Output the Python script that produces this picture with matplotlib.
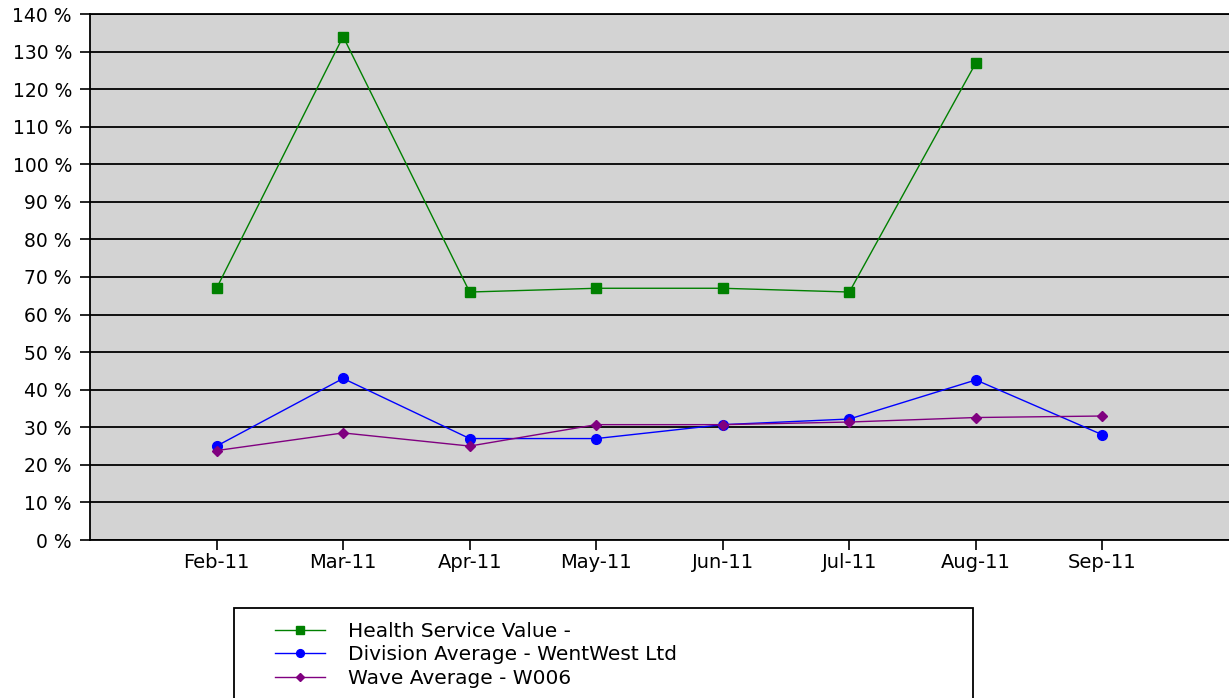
import matplotlib.pyplot as plt
from matplotlib.patches import Rectangle

months = ['Feb-11', 'Mar-11', 'Apr-11', 'May-11', 'Jun-11', 'Jul-11', 'Aug-11', 'Sep-11']
health_service = [67, 134, 66, 67, 67, 66, 127]
division_avg = [25, 43, 27, 27, 30.7, 32.2, 42.6, 28]
wave_avg = [23.8, 28.5, 25, 30.7, 30.7, 31.4, 32.6, 33]

plt.rcParams['font.family'] = ['DejaVu Sans']

fig = plt.figure(figsize=(12.29, 6.98), dpi=100)
ax = fig.add_axes([90 / 1229, 1 - 540 / 698, 1 - 90 / 1229, (540 - 14) / 698])
ax.set_facecolor('#d3d3d3')

x = list(range(1, len(months) + 1))
ax.plot(x[:len(health_service)], health_service, color='#008000', marker='s',
        markersize=7, linewidth=1, label='Health Service Value -')
ax.plot(x, division_avg, color='#0000ff', marker='o', markersize=7,
        linewidth=1, label='Division Average - WentWest Ltd')
ax.plot(x, wave_avg, color='#800080', marker='D', markersize=5,
        linewidth=1, label='Wave Average - W006')

ax.set_xlim(0, 9)
ax.set_ylim(0, 140)
ax.set_xticks(x)
ax.set_xticklabels(months, fontsize=14)
ax.set_yticks(range(0, 141, 10))
ax.set_yticklabels([f'{v} %' for v in range(0, 141, 10)], fontsize=13.5)
ax.yaxis.grid(True, color='black', linewidth=1.3)
ax.set_axisbelow(True)
ax.tick_params(axis='both', direction='out', length=7, width=1.2, color='black')
ax.tick_params(axis='x', pad=2)
ax.tick_params(axis='y', pad=6)
for side in ['left', 'bottom', 'top']:
    ax.spines[side].set_color('black')
    ax.spines[side].set_linewidth(1.3)
ax.spines['right'].set_visible(False)

# legend box below the plot (bottom edge runs off the image)
fig.patches.append(Rectangle((234 / 1229, -10 / 698), (973 - 234) / 1229, (698 - 608 + 10) / 698,
                             transform=fig.transFigure, fill=False, edgecolor='black', linewidth=1.3))
handles, labels = ax.get_legend_handles_labels()
fig.legend(handles, labels, loc='upper left', bbox_to_anchor=(267 / 1229, 1 - 614 / 698),
           frameon=False, fontsize=14.5, handlelength=2.5, handletextpad=1.1,
           labelspacing=0.22, borderaxespad=0, markerscale=0.8)

fig.savefig('out.png', dpi=100)
